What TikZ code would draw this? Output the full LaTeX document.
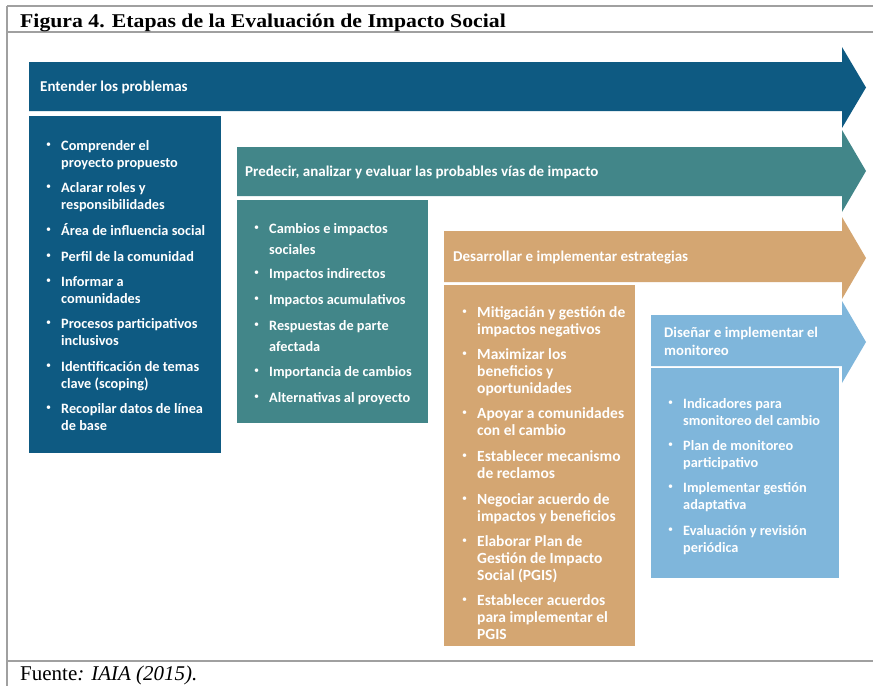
\documentclass[tikz,border=0pt]{standalone}
\usepackage{fontspec}
\setmainfont{Liberation Serif}
\newfontfamily\calfont{Carlito}
\definecolor{cdark}{RGB}{14,90,130}
\definecolor{cteal}{RGB}{66,134,137}
\definecolor{ctan}{RGB}{212,166,114}
\definecolor{clight}{RGB}{127,182,219}
\definecolor{cframe}{RGB}{160,160,160}
\newcommand\itemfont{\calfont\bfseries\fontsize{14.3}{17}\selectfont}
\newcommand\itemfontwide{\calfont\bfseries\fontsize{14.3}{21}\selectfont}
\newcommand\itemfontbig{\calfont\bfseries\fontsize{15.5}{17}\selectfont}
\newcommand\bitem[5][]{%
  \node[bul] (#2b) at (#3-12.5,#4) {\textbullet};
  \node[itx,#1] (#2) at (#3,#4) {\rule{0pt}{14pt}#5};
}
\begin{document}
\begin{tikzpicture}[x=1pt,y=-1pt,
  frame/.style={draw=cframe, line width=1.2pt},
  arr/.style={fill=#1, draw=none},
  box/.style={fill=#1, draw=none, anchor=north west, inner sep=0},
  lbl/.style={text=white, font=\calfont\bfseries\fontsize{15}{18}\selectfont, anchor=mid west, inner sep=0},
  lbl2/.style={text=white, font=\calfont\bfseries\fontsize{14.7}{18}\selectfont, anchor=north west, yshift=9pt, inner sep=0, align=left},
  itx/.style={anchor=north west, yshift=9.2pt, inner sep=0, align=left, text=white, font=\itemfont},
  bul/.style={text=white, inner sep=0, font=\calfont\fontsize{10}{10}\selectfont, anchor=center}]
\useasboundingbox (0,0) rectangle (873,686);
\fill[white] (0,0) rectangle (873,686);
% frame
\draw[frame] (7,6) -- (873,6);
\draw[frame] (7,32) -- (873,32);
\draw[frame] (7,661) -- (873,661);
\draw[frame] (7,6) -- (7,686);
% title and source
\node[anchor=base west, inner sep=0, font=\bfseries\fontsize{19.5}{20}\selectfont] (title) at (20,27) {\scalebox{1.115}[1]{Figura 4. Etapas de la Evaluación de Impacto Social}};
\node[anchor=base west, inner sep=0, font=\fontsize{21}{22}\selectfont] (src) at (20,680) {Fuente\textit{: IAIA (2015).}};
% arrows
\path[arr=cdark] (29,62) -- (842,62) -- (842,47) -- (866,87.5) -- (842,128) -- (842,111) -- (29,111) -- cycle;
\path[arr=cteal] (237,147) -- (842,147) -- (842,130) -- (866,171) -- (842,212) -- (842,196) -- (237,196) -- cycle;
\path[arr=ctan] (444,231) -- (842,231) -- (842,217) -- (866,258) -- (842,299) -- (842,282) -- (444,282) -- cycle;
\path[arr=clight] (651,315) -- (842,315) -- (842,301) -- (866,342) -- (842,383) -- (842,366) -- (651,366) -- cycle;
% arrow labels
\node[lbl] (l1) at (40,89.5) {Entender los problemas};
\node[lbl] (l2) at (245,174.5) {Predecir, analizar y evaluar las probables vías de impacto};
\node[lbl] (l3) at (453,259.5) {Desarrollar e implementar estrategias};
\node[lbl2] (l4) at (664,332) {\rule{0pt}{14pt}Diseñar e implementar el\\monitoreo};
% boxes
\node[box=cdark, minimum width=192pt, minimum height=337pt] (box1) at (29,116) {};
\node[box=cteal, minimum width=191pt, minimum height=223pt] (box2) at (237,200) {};
\node[box=ctan, minimum width=191pt, minimum height=361pt] (box3) at (444,285) {};
\node[box=clight, minimum width=188pt, minimum height=210pt] (box4) at (651,368) {};
% box 1 items
\bitem{a1}{61}{145}{Comprender el\\proyecto propuesto}
\bitem{a2}{61}{187}{Aclarar roles y\\responsibilidades}
\bitem{a3}{61}{230}{Área de influencia social}
\bitem{a4}{61}{256}{Perfil de la comunidad}
\bitem{a5}{61}{281}{Informar a\\comunidades}
\bitem{a6}{61}{323}{Procesos participativos\\inclusivos}
\bitem{a7}{61}{366}{Identificación de temas\\clave (scoping)}
\bitem{a8}{61}{408}{Recopilar datos de línea\\de base}
% box 2 items
\bitem[font=\itemfontwide]{b1}{269}{228}{Cambios e impactos\\sociales}
\bitem{b2}{269}{273}{Impactos indirectos}
\bitem{b3}{269}{299}{Impactos acumulativos}
\bitem[font=\itemfontwide]{b4}{269}{325}{Respuestas de parte\\afectada}
\bitem{b5}{269}{371}{Importancia de cambios}
\bitem{b6}{269}{397}{Alternativas al proyecto}
% box 3 items
\bitem[font=\itemfontbig]{c1}{477}{312}{Mitigacián y gestión de\\impactos negativos}
\bitem[font=\itemfontbig]{c2}{477}{354}{Maximizar los\\beneficios y\\oportunidades}
\bitem[font=\itemfontbig]{c3}{477}{413}{Apoyar a comunidades\\con el cambio}
\bitem[font=\itemfontbig]{c4}{477}{456}{Establecer mecanismo\\de reclamos}
\bitem[font=\itemfontbig]{c5}{477}{499}{Negociar acuerdo de\\impactos y beneficios}
\bitem[font=\itemfontbig]{c6}{477}{541}{Elaborar Plan de\\Gestión de Impacto\\Social (PGIS)}
\bitem[font=\itemfontbig]{c7}{477}{600}{Establecer acuerdos\\para implementar el\\PGIS}
% box 4 items
\bitem{d1}{683}{403}{Indicadores para\\smonitoreo del cambio}
\bitem{d2}{683}{445}{Plan de monitoreo\\participativo}
\bitem{d3}{683}{487}{Implementar gestión\\adaptativa}
\bitem{d4}{683}{530}{Evaluación y revisión\\periódica}
\end{tikzpicture}
\end{document}
